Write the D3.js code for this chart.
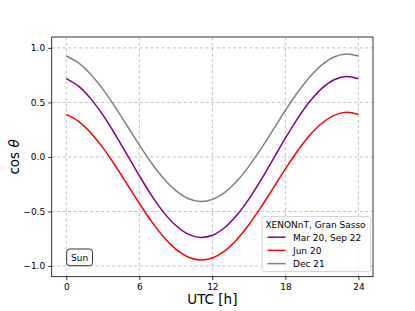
<!DOCTYPE html>
<html>
<head>
<meta charset="utf-8">
<script src="https://cdn.jsdelivr.net/npm/d3@7"></script>
<style>
  body { margin: 0; background: #fff; }
  text { font-family: "DejaVu Sans", sans-serif; }
</style>
</head>
<body>
<div id="chart"></div>
<script>
// UTC hours, one sample per hour
const hours = d3.range(0, 25)

// cos(theta) for each date
const equinox = [0.718, 0.649, 0.535, 0.386, 0.210, 0.019, -0.172, -0.352, -0.508, -0.629, -0.708, -0.738, -0.718,
    -0.649, -0.535, -0.386, -0.210, -0.019, 0.172, 0.352, 0.508, 0.629, 0.708, 0.738, 0.718]
const june = [0.390, 0.327, 0.223, 0.086, -0.076, -0.250, -0.426, -0.591, -0.734, -0.845, -0.917, -0.945, -0.926,
    -0.863, -0.759, -0.622, -0.460, -0.286, -0.110, 0.055, 0.198, 0.309, 0.381, 0.409, 0.390]
const december = [0.926, 0.863, 0.759, 0.622, 0.460, 0.286, 0.110, -0.055, -0.198, -0.309, -0.381, -0.409, -0.390,
    -0.327, -0.223, -0.086, 0.076, 0.250, 0.426, 0.591, 0.734, 0.845, 0.917, 0.945, 0.926]

const seriesNames = ["Mar 20, Sep 22", "Jun 20", "Dec 21"]
const seriesColors = ["#800080", "#ff0000", "#808080"]
const seriesValues = [equinox, june, december]

const xTicks = [0, 6, 12, 18, 24]
const yTicks = [-1.0, -0.5, 0.0, 0.5, 1.0]

const width = 415, height = 311
const margin = {left: 51.7, right: 42, top: 37, bottom: 34.3}

const svg = d3.select("#chart").append("svg")
    .attr("width", width)
    .attr("height", height)

const x = d3.scaleLinear().domain([-1.2, 25.2]).range([margin.left, width - margin.right])
const y = d3.scaleLinear().domain([-1.098, 1.1]).range([height - margin.bottom, margin.top])

// grid
const grid = svg.append("g")
grid.selectAll(".vg").data(xTicks).join("line")
    .attr("x1", d => x(d)).attr("x2", d => x(d))
    .attr("y1", y.range()[0]).attr("y2", y.range()[1])
    .attr("stroke", "#b0b0b0").attr("stroke-width", 0.8).attr("stroke-dasharray", "3,2.5")
grid.selectAll(".hg").data(yTicks).join("line")
    .attr("y1", d => y(d)).attr("y2", d => y(d))
    .attr("x1", x.range()[0]).attr("x2", x.range()[1])
    .attr("stroke", "#b0b0b0").attr("stroke-width", 0.8).attr("stroke-dasharray", "3,2.5")

// axes
const xAxis = svg.append("g")
    .attr("transform", `translate(0,${height - margin.bottom})`)
    .call(d3.axisBottom(x).tickValues(xTicks).tickSize(3.5).tickPadding(3).tickFormat(d3.format("d")))
const yAxis = svg.append("g")
    .attr("transform", `translate(${margin.left},0)`)
    .call(d3.axisLeft(y).tickValues(yTicks).tickSize(3.5).tickPadding(3)
        .tickFormat(d => d3.format(".1f")(d).replace("-", "\u2212")))
for (const ax of [xAxis, yAxis]) {
    ax.select(".domain").remove()
    ax.selectAll("text").style("font-size", "9px").attr("fill", "#000")
    ax.selectAll("line").attr("stroke", "#000").attr("stroke-width", 0.8)
}

// curves
const line = d3.line()
    .x((d, i) => x(hours[i]))
    .y(d => y(d))
    .curve(d3.curveCatmullRom)

svg.append("g").selectAll("path")
    .data(seriesValues)
    .join("path")
    .attr("d", line)
    .attr("fill", "none")
    .attr("stroke", (d, i) => seriesColors[i])
    .attr("stroke-width", 1.5)

// frame
svg.append("rect")
    .attr("x", margin.left).attr("y", margin.top)
    .attr("width", width - margin.left - margin.right)
    .attr("height", height - margin.top - margin.bottom)
    .attr("fill", "none").attr("stroke", "#000").attr("stroke-width", 0.8)

// axis labels
svg.append("text")
    .attr("x", x(12)).attr("y", 304)
    .attr("text-anchor", "middle")
    .style("font-size", "13.5px")
    .text("UTC [h]")

const ylab = svg.append("text")
    .attr("transform", `translate(18.5,${y(0)}) rotate(-90)`)
    .attr("text-anchor", "middle")
    .style("font-size", "13.5px")
ylab.append("tspan").text("cos ")
ylab.append("tspan").style("font-style", "italic").text("θ")

// "Sun" box
const sun = svg.append("g")
sun.append("rect")
    .attr("x", 66.7).attr("y", 249).attr("width", 25.8).attr("height", 16.7)
    .attr("rx", 3).attr("fill", "#fff").attr("stroke", "#000").attr("stroke-width", 0.8)
sun.append("text")
    .attr("x", 79.6).attr("y", 260.7)
    .attr("text-anchor", "middle")
    .style("font-size", "9px")
    .text("Sun")

// legend
const lg = svg.append("g")
lg.append("rect")
    .attr("x", 262).attr("y", 216.5).attr("width", 108.5).attr("height", 55)
    .attr("rx", 2).attr("fill", "#fff").attr("fill-opacity", 0.8)
    .attr("stroke", "#cccccc").attr("stroke-width", 0.8)
lg.append("text")
    .attr("x", 315.5).attr("y", 227.5)
    .attr("text-anchor", "middle")
    .style("font-size", "9px")
    .text("XENONnT, Gran Sasso")
seriesNames.forEach((name, i) => {
    const yy = 240.5 + i * 13.2
    lg.append("line")
        .attr("x1", 267.5).attr("x2", 285.5)
        .attr("y1", yy - 3.3).attr("y2", yy - 3.3)
        .attr("stroke", seriesColors[i]).attr("stroke-width", 1.5)
    lg.append("text")
        .attr("x", 293).attr("y", yy)
        .style("font-size", "9px")
        .text(name)
})
</script>
</body>
</html>
